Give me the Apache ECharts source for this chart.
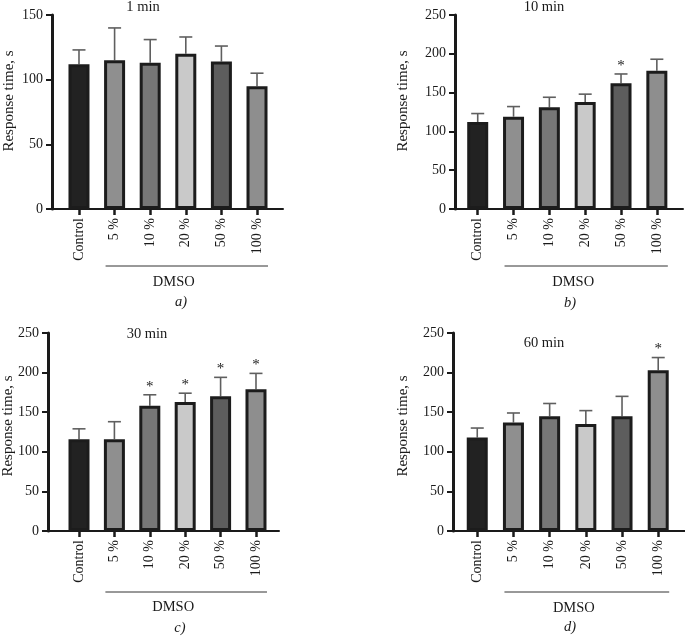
<!DOCTYPE html>
<html><head><meta charset="utf-8">
<script src="https://cdn.jsdelivr.net/npm/echarts@6/dist/echarts.min.js"></script>
<style>html,body{margin:0;padding:0;background:#fff}#c{width:685px;height:636px}</style>
</head><body><div id="c"></div>
<script>
// ---- data ----
const categories = ['Control', '5 %', '10 %', '20 %', '50 %', '100 %'];
const panelTitles = ['1 min', '10 min', '30 min', '60 min'];
const panelLetters = ['a)', 'b)', 'c)', 'd)'];
const groupLabel = 'DMSO';
const yAxisTitle = 'Response time, s';
const yMaxValues = [150, 250, 250, 250];
const yInterval = 50;

const mean1 = [112, 115, 113, 120, 114, 95];
const sd1   = [11, 25, 18, 13, 12, 10];
const sig1  = [0, 0, 0, 0, 0, 0];

const mean10 = [112, 119, 131, 138, 162, 178];
const sd10   = [11, 13, 13, 10, 12, 15];
const sig10  = [0, 0, 0, 0, 1, 0];

const mean30 = [116, 116, 158, 163, 170, 179];
const sd30   = [13, 22, 14, 11, 24, 20];
const sig30  = [0, 0, 1, 1, 1, 1];

const mean60 = [118, 137, 145, 135, 145, 203];
const sd60   = [12, 12, 16, 17, 25, 16];
const sig60  = [0, 0, 0, 0, 0, 1];

const groupRange = [1, 5]; // DMSO spans categories 5 % .. 100 %

const means = [mean1, mean10, mean30, mean60];
const sds = [sd1, sd10, sd30, sd60];
const sigs = [sig1, sig10, sig30, sig60];

// ---- styling / layout ----
const FONT = '"Liberation Serif", "Times New Roman", serif';
const barColors = ['#222222', '#8f8f8f', '#777777', '#c9c9c9', '#5d5d5d', '#8e8e8e'];
const layout = [
  { left: 52,  top: 15,  width: 231, height: 194, xmin: -0.758, xmax: 5.73, title: [143, 7],   ytitle: [9, 101],   letter: [181, 302], lineOff: 57, textOff: 73 },
  { left: 455, top: 15,  width: 228, height: 194, xmin: -0.634, xmax: 5.73, title: [544, 7],   ytitle: [403, 101], letter: [570, 303], lineOff: 57, textOff: 73 },
  { left: 48,  top: 333, width: 231, height: 198, xmin: -0.876, xmax: 5.65, title: [147, 334], ytitle: [8, 426],   letter: [180, 628], lineOff: 61, textOff: 76 },
  { left: 453, top: 333, width: 232, height: 198, xmin: -0.67,  xmax: 5.74, title: [544, 343], ytitle: [403, 426], letter: [570, 627], lineOff: 61, textOff: 77 }
];

const idx = categories.map((c, i) => i);
const grids = [], xAxes = [], yAxes = [], series = [], graphics = [];

layout.forEach((L, p) => {
  grids.push({ left: L.left, top: L.top, width: L.width, height: L.height, containLabel: false });
  xAxes.push({
    type: 'value', gridIndex: p, min: L.xmin, max: L.xmax,
    splitLine: { show: false },
    axisLine: { show: true, onZero: false, lineStyle: { color: '#1a1a1a', width: 2 } },
    axisTick: { show: true, customValues: idx, length: 6, lineStyle: { color: '#1a1a1a', width: 2.5 } },
    axisLabel: {
      show: true, customValues: idx, rotate: 90, margin: 9,
      formatter: v => categories[Math.round(v)],
      fontFamily: FONT, fontSize: 14, color: '#1a1a1a'
    }
  });
  yAxes.push({
    type: 'value', gridIndex: p, min: 0, max: yMaxValues[p], interval: yInterval,
    splitLine: { show: false },
    axisLine: { show: true, onZero: false, lineStyle: { color: '#1a1a1a', width: 3 } },
    axisTick: { show: true, length: 6, lineStyle: { color: '#1a1a1a', width: 2 } },
    axisLabel: { margin: 9, fontFamily: FONT, fontSize: 14, color: '#1a1a1a' }
  });

  series.push({
    type: 'bar', xAxisIndex: p, yAxisIndex: p, barWidth: 21, z: 3,
    data: means[p].map((v, i) => ({ value: [i, v], itemStyle: { color: barColors[i] } })),
    itemStyle: { borderColor: '#1c1c1c', borderWidth: 3 },
    emphasis: { disabled: true }, animation: false
  });

  series.push({
    type: 'custom', xAxisIndex: p, yAxisIndex: p, z: 2, animation: false, clip: false,
    data: means[p].map((v, i) => [i, v, sds[p][i], sigs[p][i]]),
    renderItem: function (params, api) {
      const i = api.value(0), m = api.value(1), s = api.value(2), sg = api.value(3);
      const a = api.coord([i, m]);
      const b = api.coord([i, m + s]);
      const st = { stroke: '#5f5f5f', lineWidth: 1.6 };
      const ch = [
        { type: 'line', shape: { x1: a[0], y1: a[1], x2: b[0], y2: b[1] }, style: st },
        { type: 'line', shape: { x1: b[0] - 6.5, y1: b[1], x2: b[0] + 6.5, y2: b[1] }, style: st }
      ];
      if (sg) {
        ch.push({ type: 'text', style: { text: '*', x: b[0], y: b[1] - 8, align: 'center', verticalAlign: 'middle', fontFamily: FONT, fontSize: 15, fill: '#1a1a1a' } });
      }
      return { type: 'group', children: ch };
    }
  });

  series.push({
    type: 'custom', xAxisIndex: p, yAxisIndex: p, z: 2, animation: false, clip: false,
    data: [[groupRange[0], groupRange[1]]],
    renderItem: function (params, api) {
      const a = api.coord([api.value(0), 0]);
      const b = api.coord([api.value(1), 0]);
      const y = a[1];
      return {
        type: 'group', children: [
          { type: 'line', shape: { x1: a[0] - 9, y1: y + L.lineOff, x2: b[0] + 11, y2: y + L.lineOff }, style: { stroke: '#333', lineWidth: 1 } },
          { type: 'text', style: { text: groupLabel, x: (a[0] + b[0]) / 2 - 12, y: y + L.textOff, align: 'center', verticalAlign: 'middle', fontFamily: FONT, fontSize: 14.5, fill: '#1a1a1a' } }
        ]
      };
    }
  });

  graphics.push({ type: 'text', x: L.title[0], y: L.title[1], style: { text: panelTitles[p], align: 'center', verticalAlign: 'middle', fontFamily: FONT, fontSize: 14.5, fill: '#1a1a1a' } });
  graphics.push({ type: 'text', x: L.letter[0], y: L.letter[1], style: { text: panelLetters[p], align: 'center', verticalAlign: 'middle', fontFamily: FONT, fontStyle: 'italic', fontSize: 14.5, fill: '#1a1a1a' } });
  graphics.push({ type: 'text', x: L.ytitle[0], y: L.ytitle[1], rotation: Math.PI / 2, style: { text: yAxisTitle, align: 'center', verticalAlign: 'middle', fontFamily: FONT, fontSize: 15, fill: '#1a1a1a' } });
});

const chart = echarts.init(document.getElementById('c'), null, { renderer: 'canvas' });
chart.setOption({
  backgroundColor: '#ffffff',
  animation: false,
  grid: grids, xAxis: xAxes, yAxis: yAxes, series: series, graphic: graphics
});
</script>
</body></html>
